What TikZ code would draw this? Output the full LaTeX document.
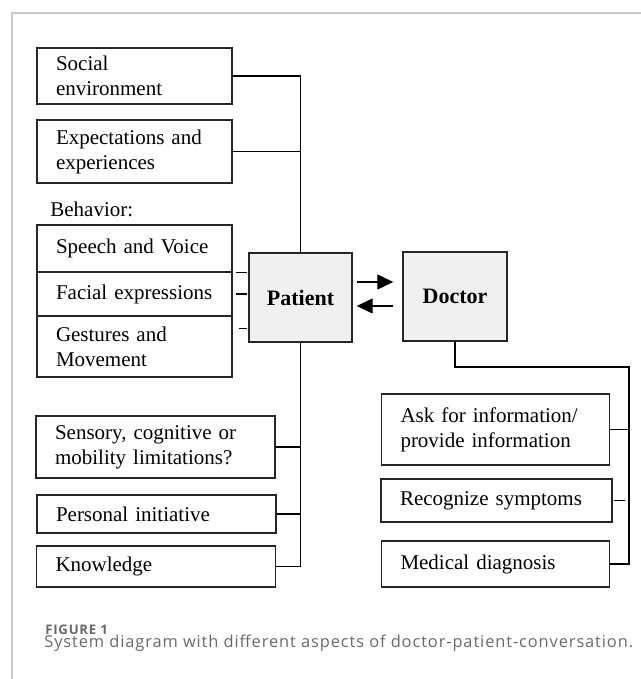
\documentclass[tikz,border=0pt]{standalone}
\usepackage{fontspec}
\setmainfont{Liberation Serif}
\newfontfamily\capfont[LetterSpace=5.5]{Open Sans}
\usetikzlibrary{arrows.meta}
\definecolor{boxgray}{RGB}{240,240,240}
\definecolor{framegray}{RGB}{200,200,200}
\definecolor{capgray}{RGB}{105,105,105}

\begin{document}
\begin{tikzpicture}[x=0.5pt,y=-0.5pt,
  box/.style={draw=black!85, line width=0.7pt, inner xsep=9.5pt, inner ysep=0pt, align=left, font=\fontsize{10.5}{12.5}\selectfont},
  narrow/.style={box, minimum width=97.5pt, text width=78.5pt},
  wide/.style={box, minimum width=119.5pt, text width=100.5pt},
  docbox/.style={box, minimum width=114pt, text width=95pt},
  actor/.style={draw=black!85, fill=boxgray, line width=0.7pt, minimum width=51.5pt, minimum height=44.5pt, font=\fontsize{11}{13}\selectfont\bfseries},
  link/.style={line width=0.65pt},
  flow/.style={line width=0.65pt, -{Triangle[length=8pt,width=7.5pt]}}]

\useasboundingbox (0,0) rectangle (641,679);

\draw[framegray, line width=0.6pt] (641,13) -- (12,13) -- (12,679);

% patient side
\node[narrow, minimum height=28pt] (social) at (134.5,76) {Social\\environment};
\node[narrow, minimum height=31.5pt] (expect) at (134.5,151.5) {Expectations and\\experiences};
\node[anchor=base west, inner sep=0pt, font=\fontsize{10.5}{12.5}\selectfont] (behav) at (50,216) {Behavior:};
\node[narrow, minimum height=23.5pt] (speech) at (134.5,248.5) {Speech and Voice};
\node[narrow, minimum height=22pt] (facial) at (134.5,294) {Facial expressions};
\node[narrow, minimum height=30.5pt] (gestures) at (134.5,346.5) {Gestures and\\Movement};

\node[wide, minimum height=31pt] (sensory) at (155.5,447) {Sensory, cognitive or\\mobility limitations?};
\node[wide, minimum height=19pt] (personal) at (156.5,514) {Personal initiative};
\node[wide, minimum height=20.5pt] (knowledge) at (156,566.5) {Knowledge};

\node[actor] (patient) at (300.5,297.5) {Patient};
\node[actor, minimum width=52pt] (doctor) at (455,296.5) {Doctor};

% doctor side
\node[docbox, minimum height=35.5pt] (ask) at (495.5,429.5) {Ask for information/\\provide information};
\node[docbox, minimum width=115.5pt, text width=96.5pt, minimum height=21.5pt] (recog) at (496.5,500.5) {Recognize symptoms};
\node[docbox, minimum height=23pt] (medical) at (495.5,564) {Medical diagnosis};

\draw[link] (social.east) -| (patient.north);
\draw[link] (expect.east) -- (expect.east -| patient.north);
\draw[link] (patient.south) |- (knowledge.east);
\draw[link] (sensory.east) -- (sensory.east -| patient.south);
\draw[link] (personal.east) -- (personal.east -| patient.south);

\draw[link] ([xshift=1.5pt]speech.south east) -- ++(11,0);
\draw[link] ([xshift=1.5pt]facial.east) -- ++(11,0);
\draw[link] ([xshift=3pt,yshift=9pt]gestures.east) -- ++(8,0);

\coordinate (gap) at (patient.east -| doctor.west);
\draw[flow] ([shift={(2pt,7.75pt)}]patient.east) -- ([shift={(-4.5pt,7.75pt)}]gap);
\draw[flow] ([shift={(-4.5pt,-4.25pt)}]gap) -- ([shift={(2pt,-4.25pt)}]patient.east);

\coordinate (bend) at (629,367);
\draw[link] (doctor.south) |- (bend) |- (medical.east);
\draw[link] (ask.east) -- (ask.east -| bend);
\draw[link] ([xshift=0.5pt]recog.east) -- ++(11,0);

% caption
\node[anchor=base west, inner sep=0pt, text=capgray, font=\capfont\bfseries\fontsize{6.6}{7}\selectfont] (fignum) at (45,634) {FIGURE 1};
\node[anchor=base west, inner sep=0pt, text=capgray, font=\capfont\fontsize{8.2}{9}\selectfont] (caption) at (44,647) {System diagram with different aspects of doctor-patient-conversation.};

\end{tikzpicture}
\end{document}
